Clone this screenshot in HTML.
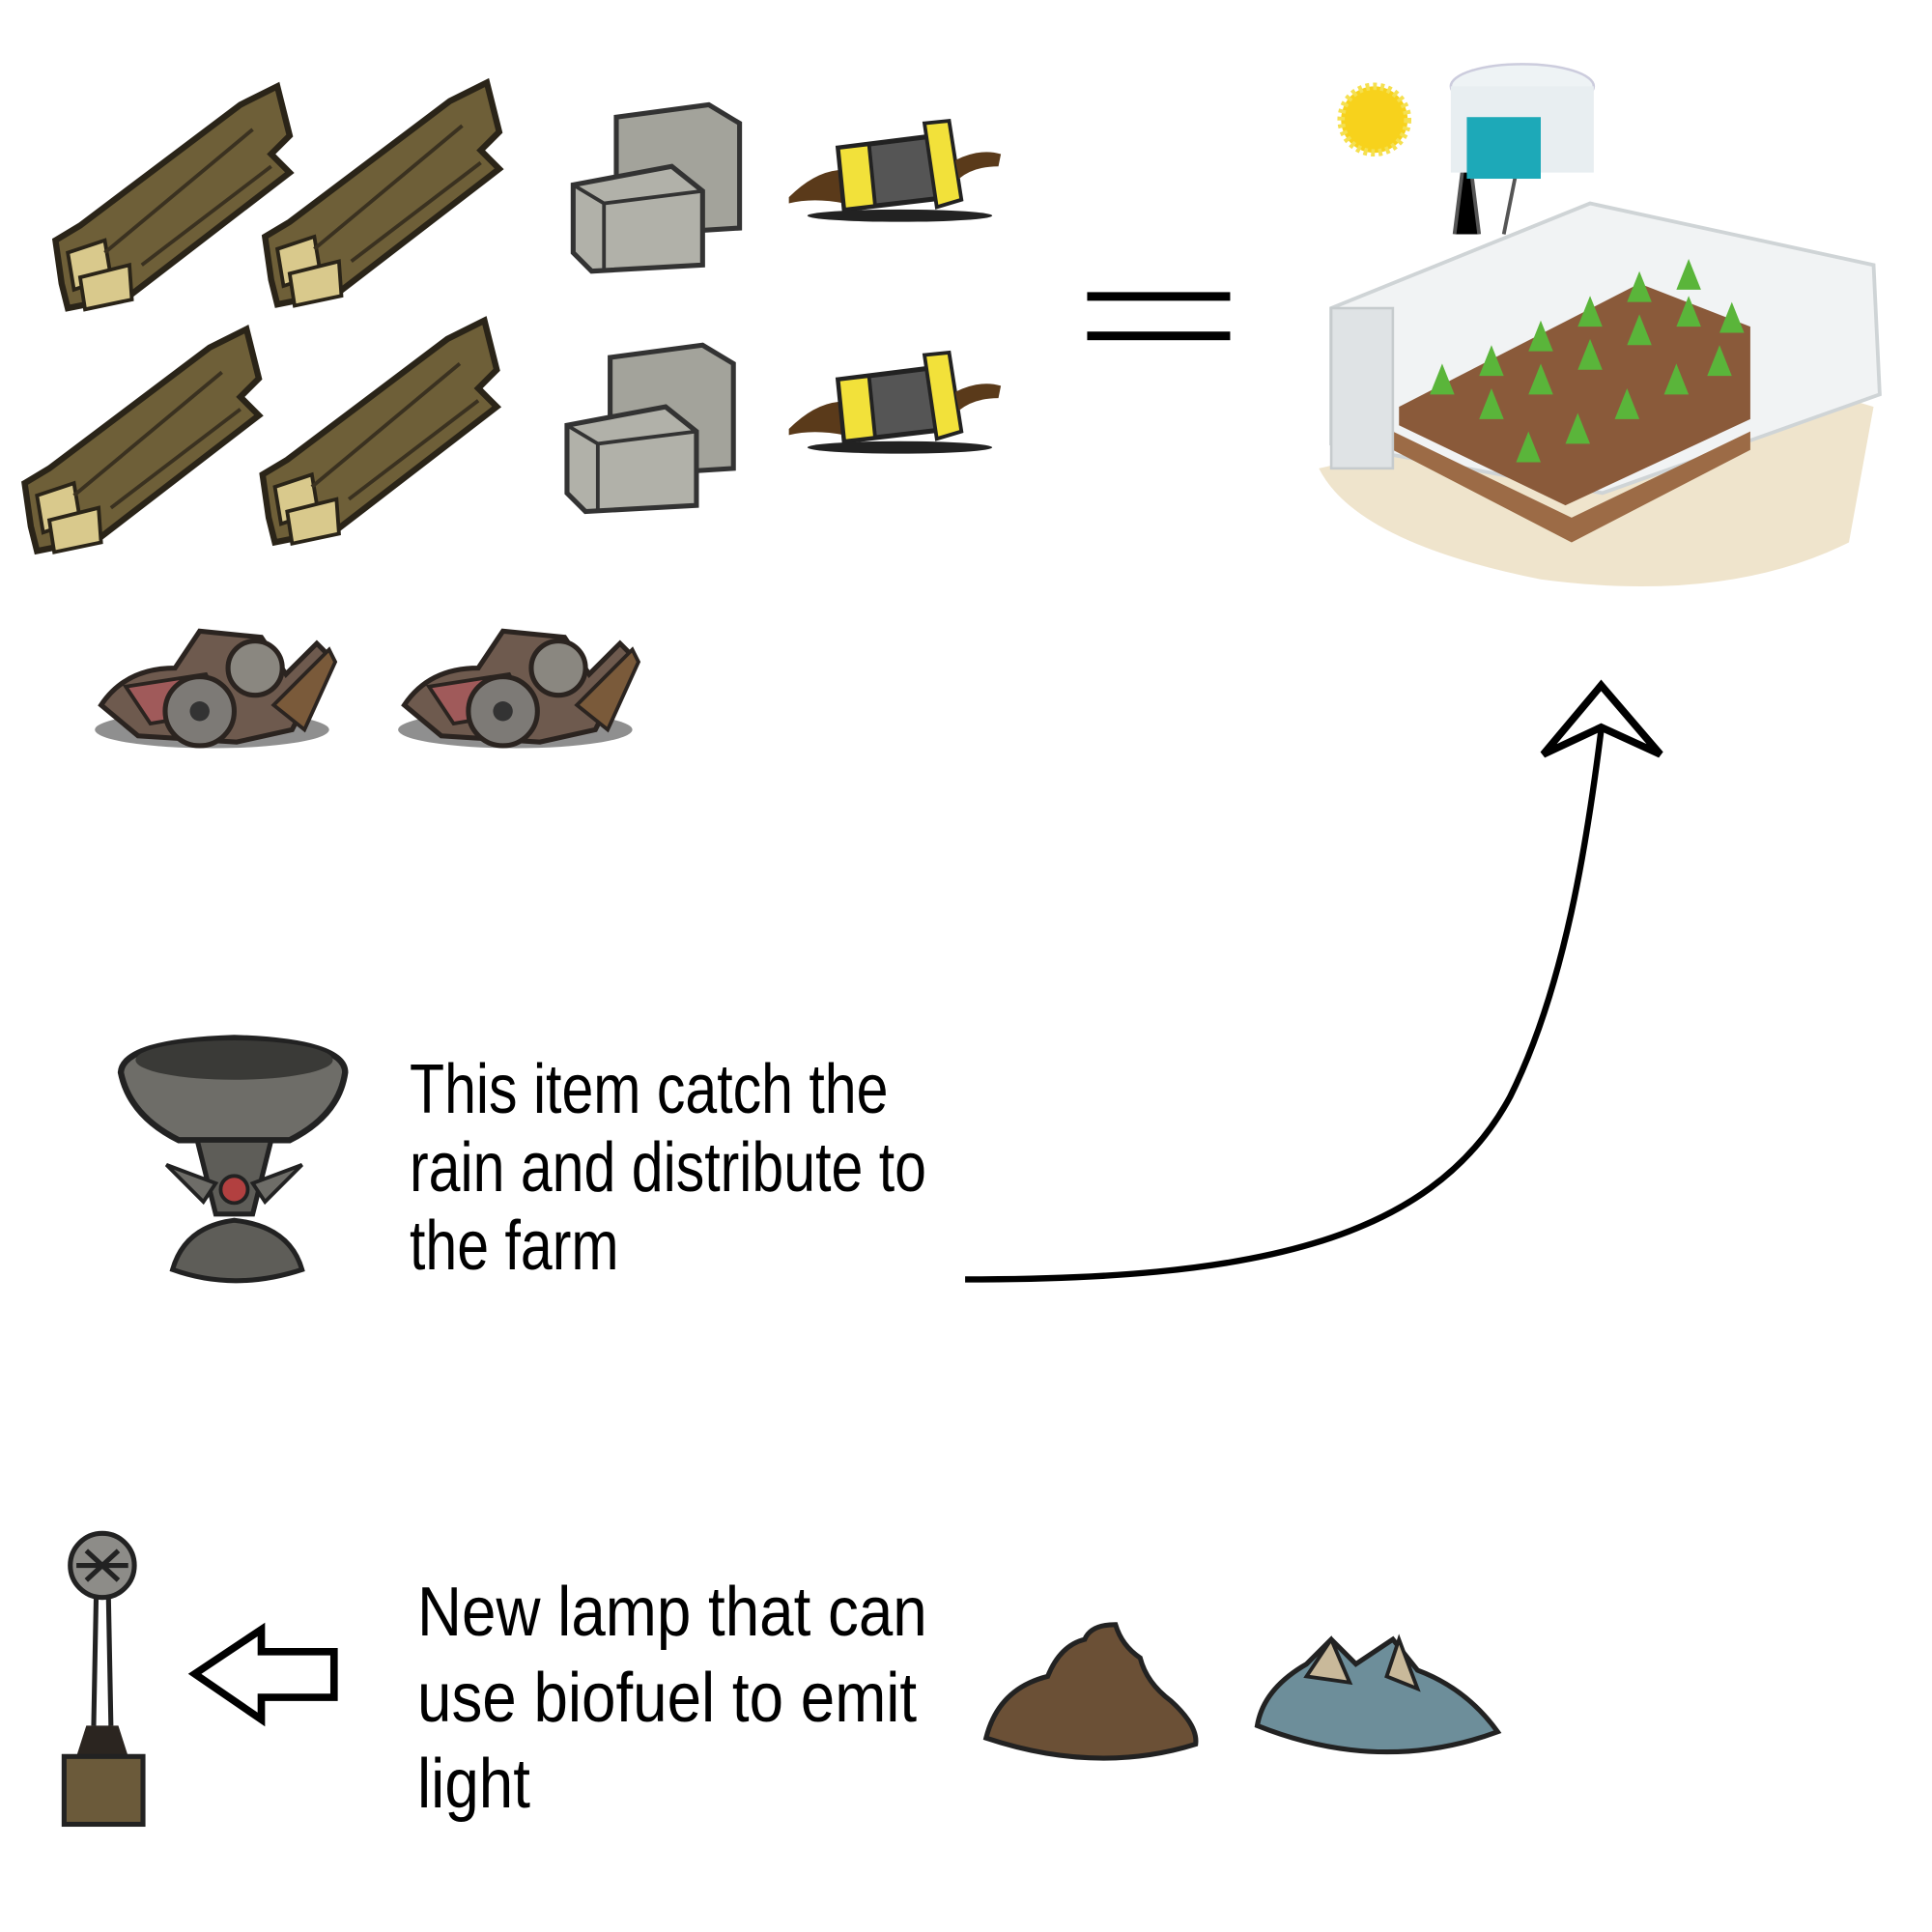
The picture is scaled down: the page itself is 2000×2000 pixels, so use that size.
<!DOCTYPE html>
<html><head><meta charset="utf-8"><style>
html,body{margin:0;padding:0;background:#fff}
body{width:2000px;height:2000px;position:relative;overflow:hidden}
svg{position:absolute;left:0;top:0}
.t{position:absolute;font-family:"Liberation Sans",Arial,sans-serif;font-size:72px;color:#000;white-space:nowrap;transform-origin:0 0;line-height:1}
</style></head><body>
<svg width="2000" height="2000" viewBox="0 0 1567.4 1567.4">
<defs>
<g id="plank">
  <path d="M0,130 L20,118 L150,20 L180,5 L190,45 L175,60 L190,75 L60,175 L10,185 L5,165 Z" fill="#6e5f38" stroke="#2a2418" stroke-width="5"/>
  <path d="M10,140 L40,130 L45,160 L15,170 Z" fill="#d9c98c" stroke="#2a2418" stroke-width="3"/>
  <path d="M20,160 L60,150 L62,178 L24,186 Z" fill="#d9c98c" stroke="#2a2418" stroke-width="3"/>
  <path d="M40,140 L160,40 M70,150 L175,70" stroke="#3a3120" stroke-width="3"/>
</g>
<g id="stone">
  <path d="M40,15 L115,5 L140,20 L140,105 L60,110 L40,95 Z" fill="#a3a39b" stroke="#333" stroke-width="4"/>
  <path d="M5,70 L85,55 L110,75 L110,135 L20,140 L5,125 Z" fill="#b1b1a9" stroke="#333" stroke-width="4"/>
  <path d="M5,70 L30,85 L110,75 M30,85 L30,140" stroke="#333" stroke-width="3" fill="none"/>
</g>
<g id="cap">
  <path d="M0,70 Q20,50 40,48 L45,75 Q20,70 0,75 Z" fill="#5a3a1a"/>
  <path d="M40,30 L120,20 L130,70 L45,80 Z" fill="#555" stroke="#222" stroke-width="4"/>
  <path d="M40,30 L65,27 L70,77 L45,80 Z" fill="#f2e13a" stroke="#222" stroke-width="3"/>
  <path d="M110,10 L130,8 L140,72 L120,78 Z" fill="#f2e13a" stroke="#222" stroke-width="3"/>
  <path d="M135,40 Q155,30 172,35 L170,45 Q150,45 138,55 Z" fill="#5a3a1a"/>
  <ellipse cx="90" cy="85" rx="75" ry="5" fill="#222"/>
</g>
<g id="gear">
  <ellipse cx="100" cy="90" rx="95" ry="15" fill="#444" opacity=".6"/>
  <path d="M10,70 Q30,40 70,40 L90,10 L140,15 L160,45 L185,20 L195,30 L165,90 L120,100 L40,95 Z" fill="#6e5a4e" stroke="#2b2420" stroke-width="4"/>
  <path d="M30,55 L95,45 L110,75 L50,85 Z" fill="#a05a5a" stroke="#2b2420" stroke-width="3"/>
  <circle cx="90" cy="75" r="28" fill="#7d7a76" stroke="#2b2420" stroke-width="4"/>
  <circle cx="90" cy="75" r="8" fill="#333"/>
  <circle cx="135" cy="40" r="22" fill="#8a8780" stroke="#2b2420" stroke-width="4"/>
  <path d="M150,70 L195,25 L200,35 L175,90 Z" fill="#7a5a3a" stroke="#2b2420" stroke-width="3"/>
</g>
</defs>
<use href="#plank" x="45" y="65"/>
<use href="#plank" x="215" y="62"/>
<use href="#plank" x="20" y="262"/>
<use href="#plank" x="213" y="255"/>
<use href="#stone" x="460" y="80"/>
<use href="#stone" x="455" y="275"/>
<use href="#cap" x="640" y="90"/>
<use href="#cap" x="640" y="278"/>
<use href="#gear" x="72" y="502"/>
<use href="#gear" x="318" y="502"/>

<rect x="882" y="237" width="116" height="7" fill="#000"/>
<rect x="882" y="269" width="116" height="7" fill="#000"/>

<circle cx="1115" cy="97" r="27" fill="#f7d21c" stroke="#f5e050" stroke-width="6" stroke-dasharray="3 3"/>
<path d="M1070,380 Q1100,440 1250,470 Q1400,490 1500,440 L1520,330 L1420,300 Z" fill="#efe4cc"/>
<path d="M1180,190 L1190,110 L1200,190 M1220,190 L1230,140" stroke="#555" stroke-width="3"/>
<ellipse cx="1235" cy="70" rx="58" ry="18" fill="#eef3f5" stroke="#ccd" stroke-width="2"/>
<rect x="1177" y="70" width="116" height="70" fill="#e8eef1"/>
<rect x="1190" y="95" width="60" height="50" fill="#1da9b8"/>
<path d="M1080,250 L1290,165 L1520,215 L1525,320 L1300,400 L1080,360 Z" fill="#f1f3f4" stroke="#cfd4d6" stroke-width="3"/>
<path d="M1135,330 L1330,230 L1420,265 L1420,340 L1270,410 L1135,345 Z" fill="#8a5a3a"/>
<path d="M1130,350 L1275,420 L1420,350 L1420,365 L1275,440 L1130,365 Z" fill="#9c6b46"/>
<g fill="#5ab53a">
<path d="M1160,320 l10,-25 l10,25 Z M1200,305 l10,-25 l10,25 Z M1240,285 l10,-25 l10,25 Z M1280,265 l10,-25 l10,25 Z M1320,245 l10,-25 l10,25 Z M1360,235 l10,-25 l10,25 Z"/>
<path d="M1200,340 l10,-25 l10,25 Z M1240,320 l10,-25 l10,25 Z M1280,300 l10,-25 l10,25 Z M1320,280 l10,-25 l10,25 Z M1360,265 l10,-25 l10,25 Z M1395,270 l10,-25 l10,25 Z"/>
<path d="M1230,375 l10,-25 l10,25 Z M1270,360 l10,-25 l10,25 Z M1310,340 l10,-25 l10,25 Z M1350,320 l10,-25 l10,25 Z M1385,305 l10,-25 l10,25 Z"/>
</g>
<rect x="1080" y="250" width="50" height="130" fill="#dfe3e5" stroke="#c6cbcd" stroke-width="2"/>

<path d="M783,1038 C1010,1038 1160,1010 1225,890 C1270,800 1288,680 1299,592" fill="none" stroke="#000" stroke-width="5"/>
<path d="M1299,556 L1347,612 L1299,590 L1252,612 Z" fill="none" stroke="#000" stroke-width="6" stroke-linejoin="miter"/>

<path d="M98,870 Q100,845 190,842 Q280,845 280,870 Q275,905 235,925 L145,925 Q105,905 98,870 Z" fill="#6e6d68" stroke="#222" stroke-width="5"/>
<ellipse cx="190" cy="860" rx="80" ry="16" fill="#3a3a37"/>
<path d="M160,925 L220,925 L205,985 L175,985 Z" fill="#5e5d58" stroke="#222" stroke-width="4"/>
<path d="M135,945 L175,960 L165,975 Z M245,945 L205,960 L215,975 Z" fill="#6e6d68" stroke="#222" stroke-width="3"/>
<circle cx="190" cy="965" r="11" fill="#b24040" stroke="#222" stroke-width="3"/>
<path d="M140,1030 Q150,995 190,990 Q235,995 245,1030 Q190,1048 140,1030 Z" fill="#5e5d58" stroke="#222" stroke-width="4"/>

<circle cx="83" cy="1270" r="26" fill="#8d8c88" stroke="#222" stroke-width="4"/>
<path d="M62,1270 L104,1270 M70,1258 L96,1282 M96,1258 L70,1282" stroke="#222" stroke-width="4"/>
<path d="M78,1296 L76,1400 M88,1296 L90,1400" stroke="#222" stroke-width="4"/>
<path d="M70,1400 L96,1400 L104,1425 L62,1425 Z" fill="#2b2520"/>
<rect x="52" y="1425" width="64" height="55" fill="#6b5a3a" stroke="#222" stroke-width="4"/>

<path d="M158,1358 L212,1322 L212,1340 L271,1340 L271,1377 L212,1377 L212,1395 Z" fill="#fff" stroke="#000" stroke-width="6" stroke-linejoin="miter"/>

<path d="M800,1410 Q810,1370 850,1360 Q860,1335 880,1330 Q885,1318 905,1318 Q910,1335 925,1345 Q930,1365 950,1380 Q972,1400 970,1415 Q890,1440 800,1410 Z" fill="#6b5036" stroke="#222" stroke-width="4"/>
<path d="M1020,1400 Q1025,1370 1060,1350 L1080,1330 L1100,1350 L1130,1330 L1150,1355 Q1190,1370 1215,1405 Q1120,1440 1020,1400 Z" fill="#6d8e9a" stroke="#222" stroke-width="4"/>
<path d="M1060,1360 L1080,1330 L1095,1365 Z M1125,1360 L1135,1330 L1150,1370 Z" fill="#c9b99a" stroke="#222" stroke-width="3"/>
</svg>

<div class="t" style="left:424px;top:1103px;line-height:81px;margin-top:-15px;transform:scaleX(0.82)">This item catch the<br>rain and distribute to<br>the farm</div>
<div class="t" style="left:432px;top:1642px;line-height:89px;margin-top:-17px;transform:scaleX(0.885)">New lamp that can<br>use biofuel to emit<br>light</div>
</body></html>
